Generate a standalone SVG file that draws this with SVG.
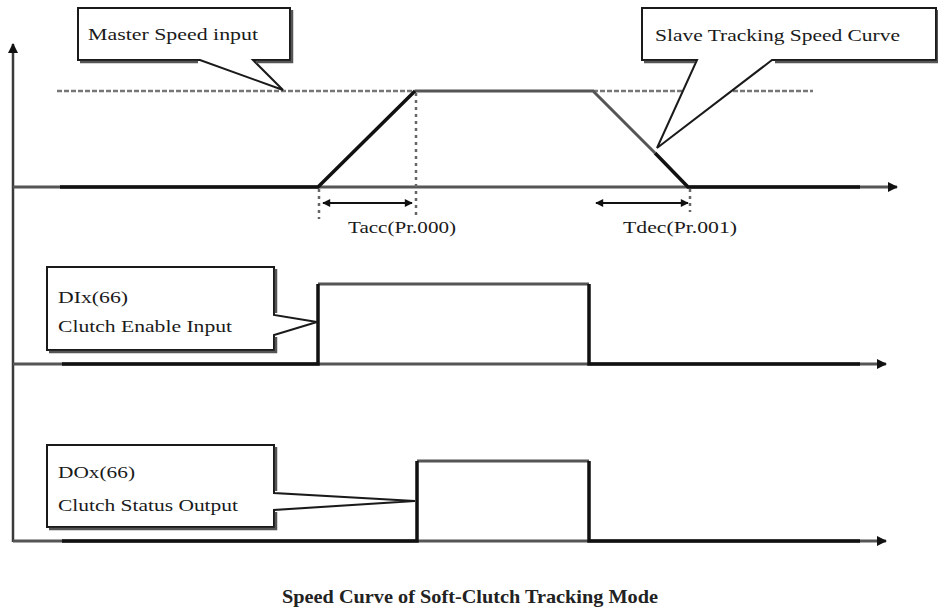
<svg xmlns="http://www.w3.org/2000/svg" width="938" height="609" viewBox="0 0 938 609">
<defs>
<style>
.ax{fill:none;stroke:#3a3a3a;stroke-width:2.5}
.sig{fill:none;stroke:#111;stroke-width:3.5}
.sigg{fill:none;stroke:#555;stroke-width:3}
.dot{fill:none;stroke:#777;stroke-width:2.5;stroke-dasharray:5 2}
.dotv{fill:none;stroke:#666;stroke-width:2.5;stroke-dasharray:3 4}
.dim{fill:none;stroke:#111;stroke-width:2}
.box{fill:#fff;stroke:#1a1a1a;stroke-width:2;stroke-linejoin:miter}
.shadow{fill:none;stroke:#555;stroke-width:2.5}
.t{font-family:"Liberation Serif","Times New Roman",serif;font-size:17px;fill:#1a1a1a}
.cap{font-family:"Liberation Serif","Times New Roman",serif;font-size:19px;font-weight:bold;fill:#222}
</style>
<marker id="ah" viewBox="0 0 10 10" refX="9" refY="5" markerWidth="12" markerHeight="10" markerUnits="userSpaceOnUse" orient="auto">
<path d="M0,0 L10,5 L0,10 Z" fill="#111"/>
</marker>
<marker id="ahs" viewBox="0 0 10 10" refX="9" refY="5" markerWidth="9" markerHeight="8" markerUnits="userSpaceOnUse" orient="auto-start-reverse">
<path d="M0,0 L10,5 L0,10 Z" fill="#111"/>
</marker>
</defs>
<rect width="938" height="609" fill="#fff"/>

<g id="connectors">
<path class="ax" d="M13,542 V44" marker-end="url(#ah)"/>
<path class="sigg" d="M13,187 H897" marker-end="url(#ah)"/>
<path class="sigg" d="M13,364 H886" marker-end="url(#ah)"/>
<path class="sigg" d="M13,541 H886" marker-end="url(#ah)"/>
<path class="dot" d="M57,91 H415 M593,91 H813"/>
<path class="sigg" d="M415,91 H593 L655,153"/>
<path class="sig" d="M60,187 H318 L415,91 M655,153 L688,187 H860"/>
<path class="dotv" d="M416,93 V216 M319,189 V219 M690,189 V212"/>
<path class="dim" d="M323,203 H412" marker-start="url(#ahs)" marker-end="url(#ahs)"/>
<path class="dim" d="M596,203 H688" marker-start="url(#ahs)" marker-end="url(#ahs)"/>
<path class="sigg" d="M318,284 H589"/>
<path class="sig" d="M62,364 H318 V284 M589,284 V364 H860"/>
<path class="sigg" d="M417,461 H589"/>
<path class="sig" d="M62,541 H417 V461 M589,461 V541 H860"/>
</g>

<g id="label-tacc"><text class="t" x="348" y="233" textLength="108" lengthAdjust="spacingAndGlyphs">Tacc(Pr.000)</text></g>
<g id="label-tdec"><text class="t" x="623" y="233" textLength="114" lengthAdjust="spacingAndGlyphs">Tdec(Pr.001)</text></g>

<g id="callout-master">
<path class="box" d="M78,8 H290 V60 H253 L283,90 L200,60 H78 Z"/>
<path class="shadow" d="M292,10 V62 H256 M198,62 H80"/>
<text class="t" x="88" y="40" textLength="170" lengthAdjust="spacingAndGlyphs">Master Speed input</text>
</g>

<g id="callout-slave">
<path class="box" d="M642,8 H936 V60 H772 L657,148 L697,60 H642 Z"/>
<path class="shadow" d="M938,10 V62 H775 M695,62 H644"/>
<text class="t" x="655" y="41" textLength="245" lengthAdjust="spacingAndGlyphs">Slave Tracking Speed Curve</text>
</g>

<g id="callout-di">
<path class="box" d="M47,267 H274 V315 L317,322 L274,335 V350 H47 Z"/>
<path class="shadow" d="M276,269 V313 M276,337 V352 H49"/>
<text class="t" x="58" y="303" textLength="70" lengthAdjust="spacingAndGlyphs">DIx(66)</text>
<text class="t" x="58" y="332" textLength="174" lengthAdjust="spacingAndGlyphs">Clutch Enable Input</text>
</g>

<g id="callout-do">
<path class="box" d="M47,445 H274 V493 L415,501 L274,510 V527 H47 Z"/>
<path class="shadow" d="M276,447 V491 M276,512 V529 H49"/>
<text class="t" x="58" y="478" textLength="77" lengthAdjust="spacingAndGlyphs">DOx(66)</text>
<text class="t" x="58" y="511" textLength="180" lengthAdjust="spacingAndGlyphs">Clutch Status Output</text>
</g>

<g id="caption"><text class="cap" x="282" y="603" textLength="376" lengthAdjust="spacingAndGlyphs">Speed Curve of Soft-Clutch Tracking Mode</text></g>
</svg>
